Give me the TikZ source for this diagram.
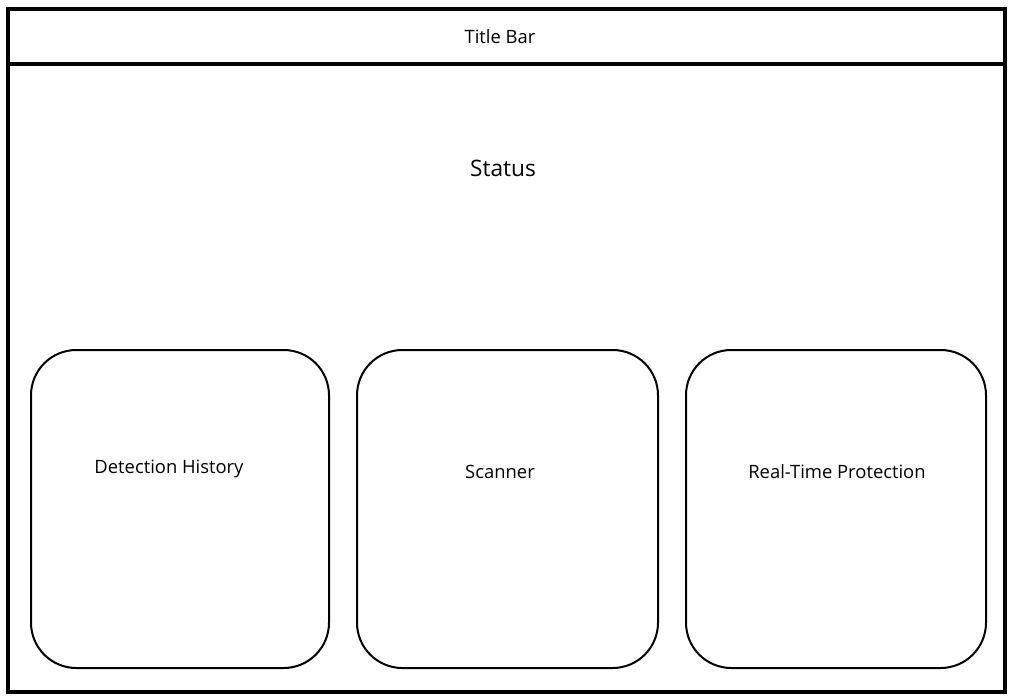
\documentclass[tikz,border=0pt]{standalone}
\usepackage{fontspec}
\setmainfont{Open Sans}
\begin{document}
\begin{tikzpicture}[x=0.75pt,y=-0.75pt,
  frame/.style={draw,line width=2.5pt},
  card/.style={draw,line width=1.5pt,rounded corners=34pt},
  lbl/.style={font=\fontsize{13.8}{16}\selectfont}]
\useasboundingbox (0,0) rectangle (1015,700);
\fill[white] (0,0) rectangle (1015,700);
\draw[frame] (8,9) rectangle (1005,692);
\draw[frame] (8,64) -- (1005,64);
\node[lbl] (title) at (500,37) {Title Bar};
\node[font=\fontsize{17}{20}\selectfont] (status) at (503,168) {Status};
\draw[card] (31,350) rectangle (329,668);
\draw[card] (357,350) rectangle (658,668);
\draw[card] (686,350) rectangle (986,668);
\node[lbl] (dh) at (169,469) {Detection History};
\node[lbl] (sc) at (500,472) {Scanner};
\node[lbl] (rt) at (837,472) {Real-Time Protection};
\end{tikzpicture}
\end{document}
